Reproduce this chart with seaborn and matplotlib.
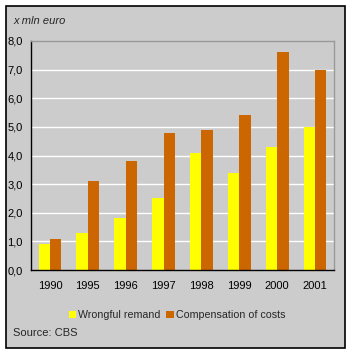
import matplotlib
matplotlib.use("Agg")
import matplotlib.pyplot as plt
import seaborn as sns
import pandas as pd
from matplotlib.patches import Rectangle
from matplotlib.ticker import FuncFormatter, MultipleLocator, FixedLocator

years = ["1990", "1995", "1996", "1997", "1998", "1999", "2000", "2001"]
wrongful_remand = [0.92, 1.29, 1.83, 2.53, 4.09, 3.39, 4.30, 5.00]
compensation = [1.08, 3.11, 3.81, 4.79, 4.90, 5.42, 7.62, 6.99]
series_names = ["Wrongful remand", "Compensation of costs"]
colors = ["#FFFF00", "#CC6600"]

df = pd.DataFrame({
    "year": years * 2,
    "value": wrongful_remand + compensation,
    "series": [series_names[0]] * len(years) + [series_names[1]] * len(years),
})

sns.set_style("white")
plt.rcParams["font.family"] = ["Liberation Sans", "DejaVu Sans"]
plt.rcParams["font.size"] = 8

fig = plt.figure(figsize=(3.51, 3.53), dpi=100)
fig.patch.set_facecolor("white")
bg = Rectangle((5.5 / 351, 1 - 347.5 / 353), 339 / 351, 342 / 353,
               transform=fig.transFigure, facecolor="#CCCCCC",
               edgecolor="black", linewidth=1.2, zorder=-10)
fig.patches.append(bg)

ax = fig.add_axes([31 / 351, 1 - 270 / 353, 303 / 351, 229 / 353])
ax.set_zorder(1)
ax.set_facecolor("#CCCCCC")
sns.barplot(data=df, x="year", y="value", hue="series", palette=colors,
            width=0.6, saturation=1, ax=ax, legend=True, linewidth=0)

ax.set_ylim(0, 8)
ax.set_xlim(-0.5, len(years) - 0.5)
ax.yaxis.set_major_locator(MultipleLocator(1))
ax.yaxis.set_major_formatter(FuncFormatter(lambda v, p: f"{v:.1f}".replace(".", ",")))
for yv in range(1, 8):
    ax.axhline(yv, color="white", linewidth=1, zorder=0.5)
ax.set_axisbelow(True)

for s in ["top", "right"]:
    ax.spines[s].set_color("#999999")
    ax.spines[s].set_linewidth(1)
for s in ["left", "bottom"]:
    ax.spines[s].set_color("black")
    ax.spines[s].set_linewidth(1)

ax.set_xlabel("")
ax.set_ylabel("")
ax.tick_params(axis="x", length=0, pad=8, labelsize=8, colors="black")
ax.xaxis.set_minor_locator(FixedLocator([i - 0.5 for i in range(len(years) + 1)]))
ax.tick_params(axis="x", which="minor", length=3.5, width=1, color="black", direction="out")
ax.tick_params(axis="y", length=3, width=1, direction="out", pad=3, labelsize=8, colors="black")

handles, labels = ax.get_legend_handles_labels()
ax.get_legend().remove()
fig.legend(handles, labels, loc="center", bbox_to_anchor=(177 / 351, 1 - 315 / 353),
           ncol=2, frameon=False, handlelength=0.7, handleheight=0.7,
           handletextpad=0.2, columnspacing=0.5, fontsize=7.7, borderpad=0)

fig.text(13 / 351, 1 - 21 / 353, "x mln euro", style="italic", fontsize=8,
         va="center", ha="left")
fig.text(13 / 351, 1 - 333 / 353, "Source: CBS", fontsize=8, va="center", ha="left")

fig.savefig("out.png", dpi=100)
